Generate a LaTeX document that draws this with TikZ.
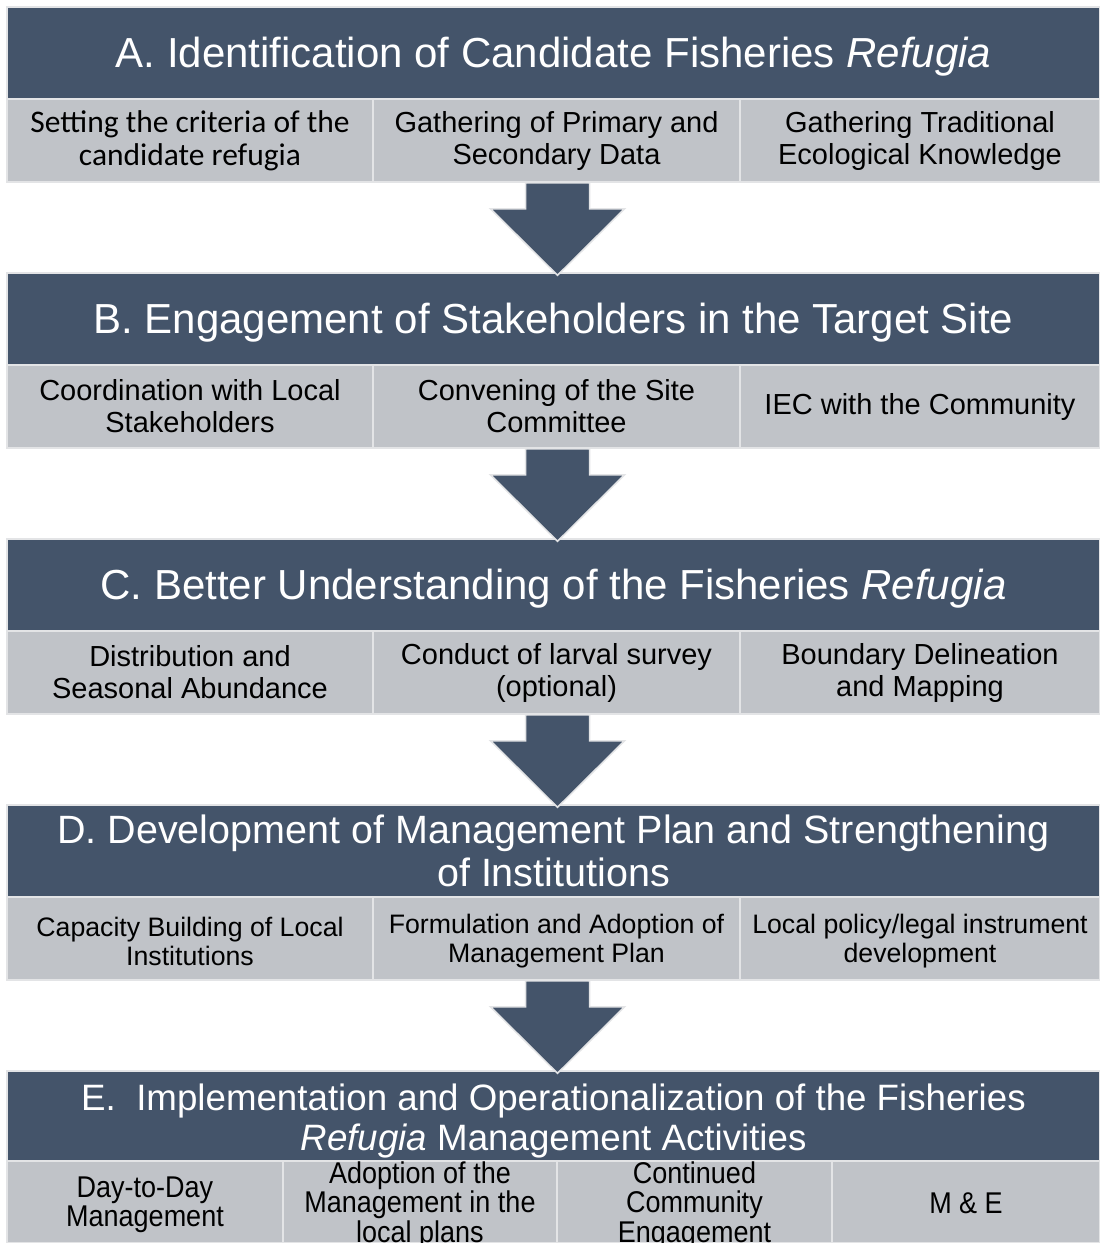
\documentclass[tikz,border=0pt]{standalone}
\usepackage{fontspec}
\setmainfont{Liberation Sans}
\newfontfamily\calibrifont{Carlito}
\newfontfamily\narrowsans{Liberation Sans}[FakeStretch=0.9]
\usetikzlibrary{calc}
\definecolor{hdrblue}{HTML}{44546A}
\definecolor{subgrey}{HTML}{C0C3C8}
\definecolor{edgegrey}{HTML}{E3E4E6}
\begin{document}
\begin{tikzpicture}[x=1pt,y=-1pt,
  hdr/.style={rectangle, fill=hdrblue, draw=edgegrey, line width=1.5pt,
    minimum width=1093pt, minimum height=92pt, inner sep=0pt, text=white,
    align=center, font=\fontsize{42}{46}\selectfont},
  hdrone/.style={hdr, text height=38pt, text depth=9pt},
  cell/.style={rectangle, fill=subgrey, draw=edgegrey, line width=1.5pt,
    minimum height=83pt, inner sep=0pt, text=black, align=center,
    font=\fontsize{29}{32}\selectfont},
  dcell/.style={cell, font=\fontsize{26.7}{29}\selectfont},
  ecell/.style={cell, minimum height=82pt},
  etext/.style={inner sep=0pt, text=black, align=center,
    font=\narrowsans\fontsize{30}{29.5}\selectfont},
  htext/.style={inner sep=0pt, text=white, align=center,
    font=\fontsize{36.7}{40}\selectfont},
  blockarrow/.style={fill=hdrblue, draw=edgegrey, line width=1.5pt, line join=miter}
]
\useasboundingbox (0,0) rectangle (1100,1243);
\fill[white] (0,0) rectangle (1100,1243);

% ---- A ----
\node[hdrone] (A) at (553.5,53) {A. Identification of Candidate Fisheries \textit{Refugia}};
\node[cell, minimum width=366pt, font=\calibrifont\fontsize{31.5}{33}\selectfont] (A1) at (190,140.5) {Setting the criteria of the\\candidate refugia};
\node[cell, minimum width=367pt] (A2) at (556.5,140.5) {Gathering of Primary and\\Secondary Data};
\node[cell, minimum width=360pt] (A3) at (920,140.5) {Gathering Traditional\\Ecological Knowledge};

% ---- B ----
\node[hdrone] (B) at (553.5,319) {B. Engagement of Stakeholders in the Target Site};
\node[cell, minimum width=366pt] (B1) at (190,406.5) {Coordination with Local\\Stakeholders};
\node[cell, minimum width=367pt] (B2) at (556.5,406.5) {Convening of the Site\\Committee};
\node[cell, minimum width=360pt] (B3) at (920,406.5) {IEC with the Community};

% ---- C ----
\node[hdrone] (C) at (553.5,585) {C. Better Understanding of the Fisheries \textit{Refugia}};
\node[cell, minimum width=366pt] (C1) at (190,672.5) {Distribution and\\Seasonal Abundance};
\node[cell, minimum width=367pt] (C2) at (556.5,672.5) {Conduct of larval survey\\(optional)};
\node[cell, minimum width=360pt] (C3) at (920,672.5) {Boundary Delineation\\and Mapping};

% ---- D ----
\node[hdr, font=\fontsize{39.5}{43}\selectfont] (D) at (553.5,851) {D. Development of Management Plan and Strengthening\\of Institutions};
\node[dcell, minimum width=366pt] (D1) at (190,938.5) {};
\node[dcell, minimum width=367pt] (D2) at (556.5,938.5) {};
\node[dcell, minimum width=360pt] (D3) at (920,938.5) {};
\node[inner sep=0pt, align=center, font=\fontsize{26.7}{29}\selectfont] (D1t) at ($(D1.center)+(0,2.5)$) {Capacity Building of Local\\Institutions};
\node[inner sep=0pt, align=center, font=\fontsize{26.7}{29}\selectfont] (D2t) at ($(D2.center)+(0,2.5)$) {Formulation and Adoption of\\Management Plan};
\node[inner sep=0pt, align=center, font=\fontsize{26.7}{29}\selectfont] (D3t) at ($(D3.center)+(0,2.5)$) {Local policy/legal instrument\\development};

% ---- E ----
\node[hdr, minimum height=90pt] (E) at (553.5,1116) {};
\node[htext] (Et) at ($(E.center)+(0,5)$) {E.\ \ Implementation and Operationalization of the Fisheries\\\textit{Refugia} Management Activities};
\node[ecell, minimum width=276pt] (E1) at (145,1202) {};
\node[ecell, minimum width=274pt] (E2) at (420,1202) {};
\node[ecell, minimum width=275pt] (E3) at (694.5,1202) {};
\node[ecell, minimum width=268pt] (E4) at (966,1202) {};
\node[etext] (E1t) at ($(E1.center)+(0,3)$) {Day-to-Day\\Management};
\node[etext] (E2t) at ($(E2.center)+(0,3)$) {Adoption of the\\Management in the\\local plans};
\node[etext] (E3t) at ($(E3.center)+(0,3)$) {Continued\\Community\\Engagement};
\node[etext] (E4t) at ($(E4.center)+(0,1)$) {M \& E};

% ---- block arrows ----
\foreach \s/\t in {A2/B, B2/C, C2/D, D2/E}{
  \draw[blockarrow]
    ($(\s.south)+(-31,0)$) -- ($(\s.south)+(33,0)$) --
    ($(\s.south)+(33,26)$) -- ($(\s.south)+(68,26)$) --
    ($(\s.south |- \t.north)+(1,3)$) --
    ($(\s.south)+(-66,26)$) -- ($(\s.south)+(-31,26)$) -- cycle;
}
\end{tikzpicture}
\end{document}
